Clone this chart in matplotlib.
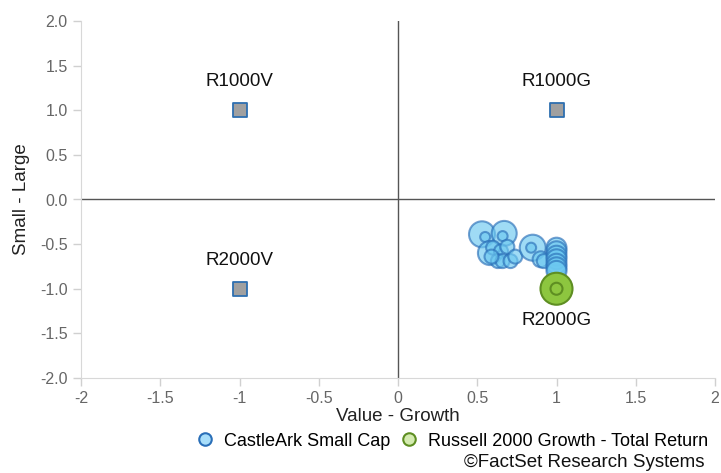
import numpy as np
import matplotlib
matplotlib.use("Agg")
import matplotlib.pyplot as plt
from matplotlib.lines import Line2D

plt.rcParams['font.family'] = ['Liberation Sans', 'DejaVu Sans']

# style index corners
idx_names = ['R1000V', 'R1000G', 'R2000V', 'R2000G']
idx_x = [-1, 1, -1, 1]
idx_y = [1, 1, -1, -1]

# fund trail (value-growth, small-large) and bubble radius in px
fund_x = [0.53, 0.55, 0.67, 0.66, 0.58, 0.60, 0.65, 0.69, 0.63, 0.66, 0.71, 0.74, 0.59,
          0.85, 0.84, 0.90, 0.92,
          1.0, 1.0, 1.0, 1.0, 1.0, 1.0, 1.0]
fund_y = [-0.39, -0.42, -0.38, -0.41, -0.60, -0.54, -0.58, -0.53, -0.69, -0.69, -0.69, -0.64, -0.64,
          -0.54, -0.54, -0.67, -0.69,
          -0.54, -0.58, -0.63, -0.67, -0.72, -0.76, -0.80]
fund_r = [13, 5, 12.5, 5, 12, 7, 7, 7, 7, 7, 7, 7, 7,
          13, 5, 8, 7,
          10, 10, 10, 10, 10, 10, 10]

bench_x = [1.0, 1.0]
bench_y = [-1.0, -1.0]
bench_r = [16, 6]

fig = plt.figure(figsize=(7.21, 4.73), dpi=100)
ax = fig.add_axes([81/721, 1 - 378/473, (715-81)/721, (378-21)/473])

def s_of(r):
    return [(2*v*72/100)**2 for v in r]

ax.axhline(0, color='#555555', lw=1, zorder=1)
ax.axvline(0, color='#555555', lw=1, zorder=1)

ax.scatter(idx_x[:3], idx_y[:3], marker='s', s=(14*72/100)**2, c='#a0a0a0',
           edgecolors='#2e6fb0', linewidths=1.3, zorder=2)

ax.scatter(fund_x, fund_y, s=s_of(fund_r), c='#6cc8f0', alpha=0.65,
           edgecolors='#2a6fb8', linewidths=1.5, zorder=3)
ax.scatter(bench_x, bench_y, s=s_of(bench_r), c='#8dc63f', edgecolors='#5e8e22',
           linewidths=1.5, zorder=4)

offsets = [0.32, 0.32, 0.32, -0.36]
for n, x, y, off in zip(idx_names, idx_x, idx_y, offsets):
    ax.text(x, y + off, n, ha='center', va='center', fontsize=13.5, color='#111111')

ax.set_xlim(-2, 2)
ax.set_ylim(-2, 2)
ax.set_xticks(np.arange(-2, 2.01, 0.5))
ax.set_xticklabels(['-2', '-1.5', '-1', '-0.5', '0', '0.5', '1', '1.5', '2'])
ax.set_yticks(np.arange(-2, 2.01, 0.5))
ax.set_yticklabels(['%.1f' % v for v in np.arange(-2, 2.01, 0.5)])
ax.tick_params(colors='#d0d0d0', labelcolor='#666666', labelsize=11.5, length=6, width=1)
for sp in ['top', 'right']:
    ax.spines[sp].set_visible(False)
for sp in ['left', 'bottom']:
    ax.spines[sp].set_color('#d8d8d8')
ax.set_xlabel('Value - Growth', fontsize=13.5, color='#222222', labelpad=1)
ax.set_ylabel('Small - Large', fontsize=13.5, color='#222222', labelpad=7)

handles = [
    Line2D([], [], marker='o', ls='', ms=9, mfc='#a8defa', mec='#2a6fb8', mew=1.5),
    Line2D([], [], marker='o', ls='', ms=9, mfc='#d4ebb0', mec='#5e8e22', mew=1.5),
]
fig.legend(handles, ['CastleArk Small Cap', 'Russell 2000 Growth - Total Return'],
           loc='center right', bbox_to_anchor=(1.0, 1 - 441/473), ncol=2, frameon=False,
           fontsize=13, handletextpad=0.3, columnspacing=0.3, handlelength=1.5,
           borderaxespad=0.3)
fig.text(705/721, 1 - 462/473, '\u00a9FactSet Research Systems', ha='right', va='center',
         fontsize=13.5, color='#111111')

fig.savefig('out.png', dpi=100)
